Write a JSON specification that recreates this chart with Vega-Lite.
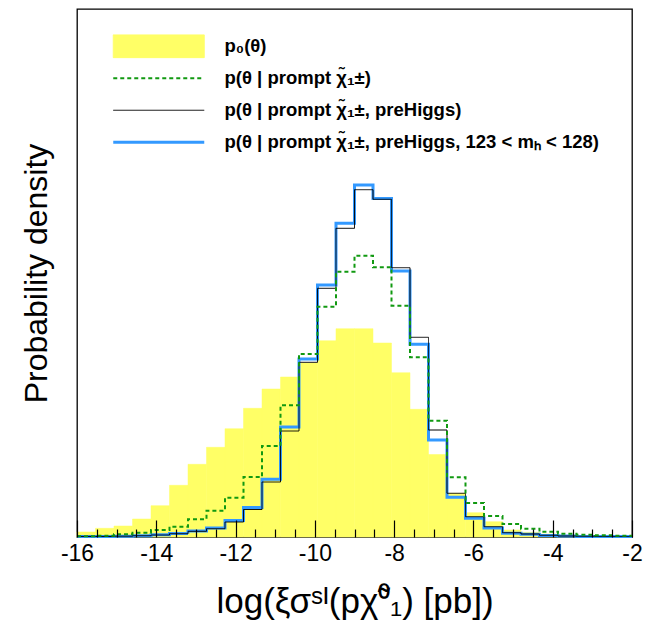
{
  "$schema": "https://vega.github.io/schema/vega-lite/v6.json",
  "width": 555,
  "height": 528,
  "autosize": "none",
  "padding": {"left": 77, "top": 9, "right": 17, "bottom": 107},
  "background": "white",
  "config": {
    "view": {"stroke": "black", "strokeWidth": 1.3},
    "font": "Liberation Sans",
    "axis": {"grid": false, "domain": false}
  },
  "datasets": {
    "bins": [
      {"lo": -16, "hi": -15.5333, "p0": 5},
      {"lo": -15.5333, "hi": -15.0667, "p0": 8.7},
      {"lo": -15.0667, "hi": -14.6, "p0": 11},
      {"lo": -14.6, "hi": -14.1333, "p0": 18},
      {"lo": -14.1333, "hi": -13.6667, "p0": 31.3},
      {"lo": -13.6667, "hi": -13.2, "p0": 51.7},
      {"lo": -13.2, "hi": -12.7333, "p0": 72.7},
      {"lo": -12.7333, "hi": -12.2667, "p0": 89.7},
      {"lo": -12.2667, "hi": -11.8, "p0": 108.3},
      {"lo": -11.8, "hi": -11.3333, "p0": 128.7},
      {"lo": -11.3333, "hi": -10.8667, "p0": 148},
      {"lo": -10.8667, "hi": -10.4, "p0": 160},
      {"lo": -10.4, "hi": -9.9333, "p0": 174},
      {"lo": -9.9333, "hi": -9.4667, "p0": 196.3},
      {"lo": -9.4667, "hi": -9, "p0": 208.3},
      {"lo": -9, "hi": -8.5333, "p0": 208.3},
      {"lo": -8.5333, "hi": -8.0667, "p0": 194},
      {"lo": -8.0667, "hi": -7.6, "p0": 164.3},
      {"lo": -7.6, "hi": -7.1333, "p0": 127.7},
      {"lo": -7.1333, "hi": -6.6667, "p0": 82.5},
      {"lo": -6.6667, "hi": -6.2, "p0": 43.7},
      {"lo": -6.2, "hi": -5.7333, "p0": 24.3},
      {"lo": -5.7333, "hi": -5.2667, "p0": 15.3},
      {"lo": -5.2667, "hi": -4.8, "p0": 7},
      {"lo": -4.8, "hi": -4.3333, "p0": 4.7},
      {"lo": -4.3333, "hi": -3.8667, "p0": 3},
      {"lo": -3.8667, "hi": -3.4, "p0": 1.5},
      {"lo": -3.4, "hi": -2.9333, "p0": 1},
      {"lo": -2.9333, "hi": -2.4667, "p0": 0.5},
      {"lo": -2.4667, "hi": -2, "p0": 0.5}
    ],
    "steps": [
      {"x": -16, "s1": 0.6, "s2": 0.6, "s3": 0.7},
      {"x": -15.5333, "s1": 0.6, "s2": 0.6, "s3": 1.3},
      {"x": -15.0667, "s1": 0.8, "s2": 0.8, "s3": 2.7},
      {"x": -14.6, "s1": 1.3, "s2": 1.3, "s3": 4.3},
      {"x": -14.1333, "s1": 2.2, "s2": 2, "s3": 7},
      {"x": -13.6667, "s1": 3.6, "s2": 3.3, "s3": 10.3},
      {"x": -13.2, "s1": 6, "s2": 5.7, "s3": 17.7},
      {"x": -12.7333, "s1": 9, "s2": 8.3, "s3": 26.3},
      {"x": -12.2667, "s1": 16.5, "s2": 15, "s3": 39.3},
      {"x": -11.8, "s1": 29.5, "s2": 27.5, "s3": 60},
      {"x": -11.3333, "s1": 57.7, "s2": 55, "s3": 91},
      {"x": -10.8667, "s1": 110, "s2": 106, "s3": 131.7},
      {"x": -10.4, "s1": 178, "s2": 174.7, "s3": 183},
      {"x": -9.9333, "s1": 252, "s2": 248.7, "s3": 230.3},
      {"x": -9.4667, "s1": 313.7, "s2": 308.7, "s3": 265.3},
      {"x": -9, "s1": 352, "s2": 347.3, "s3": 281.3},
      {"x": -8.5333, "s1": 338.5, "s2": 337.7, "s3": 269.7},
      {"x": -8.0667, "s1": 266, "s2": 269.3, "s3": 231.3},
      {"x": -7.6, "s1": 192.7, "s2": 199.7, "s3": 179.7},
      {"x": -7.1333, "s1": 97, "s2": 107, "s3": 116.3},
      {"x": -6.6667, "s1": 39.7, "s2": 43.7, "s3": 59.7},
      {"x": -6.2, "s1": 18.7, "s2": 20.3, "s3": 34},
      {"x": -5.7333, "s1": 9, "s2": 10.3, "s3": 21},
      {"x": -5.2667, "s1": 3.7, "s2": 4.3, "s3": 13},
      {"x": -4.8, "s1": 2.7, "s2": 3, "s3": 8.3},
      {"x": -4.3333, "s1": 1.5, "s2": 1.7, "s3": 5.3},
      {"x": -3.8667, "s1": 0.9, "s2": 1, "s3": 3.3},
      {"x": -3.4, "s1": 0.6, "s2": 0.7, "s3": 2.3},
      {"x": -2.9333, "s1": 0.5, "s2": 0.5, "s3": 1.7},
      {"x": -2.4667, "s1": 0.4, "s2": 0.5, "s3": 1.3},
      {"x": -2, "s1": 0.4, "s2": 0.5, "s3": 1.3}
    ]
  },
  "layer": [
    {
      "data": {"name": "bins"},
      "mark": {"type": "rect", "fill": "#ffff66", "stroke": "#ffff66", "strokeWidth": 0.5},
      "encoding": {
        "x": {
          "field": "lo", "type": "quantitative",
          "scale": {"domain": [-16, -2], "nice": false, "zero": false},
          "axis": {
            "orient": "bottom", "zindex": 1, "offset": -17,
            "values": [-16, -14, -12, -10, -8, -6, -4, -2],
            "ticks": true, "tickSize": 17, "tickColor": "black", "tickWidth": 1.2,
            "labelExpr": "'' + datum.value",
            "labelFontSize": 23, "labelColor": "black", "labelBaseline": "middle",
            "labelPadding": 16, "labelFlush": false,
            "title": "log(ξσˢᴵ(pχ̃⁰₁) [pb])",
            "titleFontSize": 35, "titleFontWeight": "normal", "titleColor": "black",
            "titlePadding": 19
          }
        },
        "x2": {"field": "hi"},
        "y": {
          "field": "p0", "type": "quantitative",
          "scale": {"domain": [0, 528], "nice": false},
          "axis": {
            "labels": false, "ticks": false,
            "title": "Probability density",
            "titleFontSize": 32, "titleFontWeight": "normal", "titleColor": "black",
            "titlePadding": 24
          }
        },
        "y2": {"datum": 0}
      }
    },
    {
      "data": {"name": "steps"},
      "transform": [{"fold": ["s1", "s2", "s3"], "as": ["series", "v"]}],
      "mark": {"type": "line", "interpolate": "step-after"},
      "encoding": {
        "x": {
          "field": "x", "type": "quantitative",
          "axis": {
            "orient": "bottom", "zindex": 1, "offset": -8,
            "values": [-15.5, -15, -14.5, -13.5, -13, -12.5, -11.5, -11, -10.5, -9.5, -9, -8.5, -7.5, -7, -6.5, -5.5, -5, -4.5, -3.5, -3, -2.5],
            "ticks": true, "tickSize": 8, "tickColor": "black", "tickWidth": 1.2,
            "labels": false, "title": null
          }
        },
        "y": {"field": "v", "type": "quantitative"},
        "color": {
          "field": "series", "type": "nominal",
          "scale": {"domain": ["y0", "s3", "s2", "s1"], "range": ["#ffff66", "#119911", "#000000", "#3399ff"]},
          "legend": {
            "orient": "none", "legendX": 27, "legendY": 21.5,
            "title": null, "padding": 0, "rowPadding": 0, "clipHeight": 31.5,
            "symbolSize": 100, "labelOffset": 102, "labelLimit": 600,
            "labelFont": "Liberation Sans", "labelFontWeight": "bold", "labelFontSize": 18.5, "labelColor": "black",
            "labelExpr": "datum.value === 'y0' ? 'p₀(θ)' : datum.value === 's3' ? 'p(θ | prompt χ̃₁±)' : datum.value === 's2' ? 'p(θ | prompt χ̃₁±, preHiggs)' : 'p(θ | prompt χ̃₁±, preHiggs, 123 < mₕ < 128)'",
            "encode": {
              "symbols": {
                "update": {
                  "shape": {"signal": "datum.value === 'y0' ? 'M0,-0.25H2V0.25H0Z' : 'M0,0H2'"},
                  "size": {"value": 8281},
                  "fill": {"signal": "datum.value === 'y0' ? '#ffff66' : 'transparent'"},
                  "stroke": {"signal": "datum.value === 'y0' ? 'transparent' : datum.value === 's3' ? '#119911' : datum.value === 's2' ? '#000000' : '#3399ff'"},
                  "strokeWidth": {"signal": "datum.value === 's1' ? 3 : datum.value === 's3' ? 2 : 1"},
                  "strokeDash": {"signal": "datum.value === 's3' ? [4, 3] : [1, 0]"},
                  "opacity": {"value": 1}
                }
              }
            }
          }
        },
        "strokeDash": {
          "field": "series", "type": "nominal",
          "scale": {"domain": ["s1", "s2", "s3"], "range": [[1, 0], [1, 0], [4, 3]]},
          "legend": null
        },
        "strokeWidth": {
          "field": "series", "type": "nominal",
          "scale": {"type": "ordinal", "domain": ["s1", "s2", "s3"], "range": [3, 1, 2]},
          "legend": null
        }
      }
    }
  ],
  "resolve": {"axis": {"x": "independent"}}
}
